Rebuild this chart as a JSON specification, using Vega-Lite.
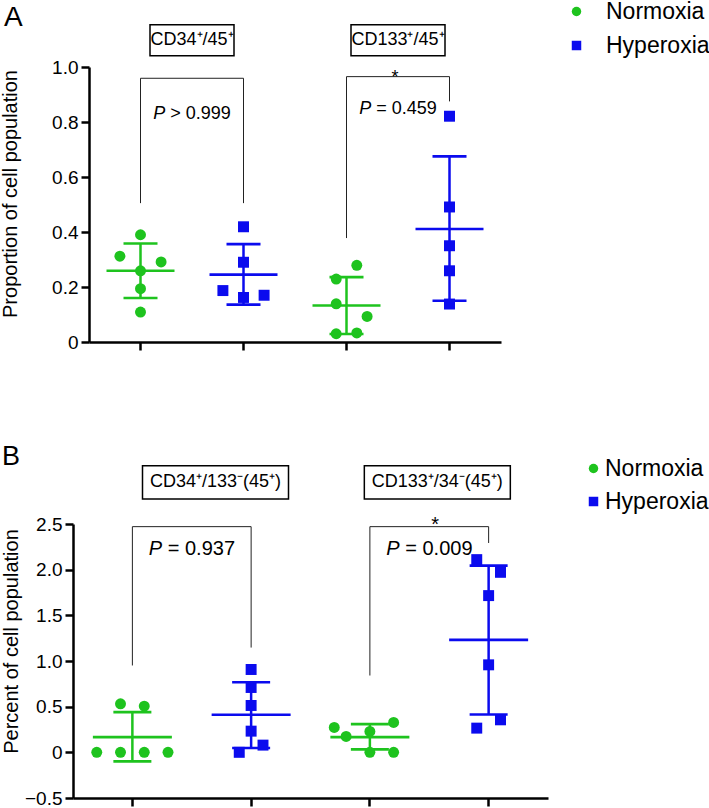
{
  "$schema": "https://vega.github.io/schema/vega-lite/v6.json",
  "padding": 0,
  "background": "white",
  "config": {"font": "Liberation Sans", "view": {"stroke": null}},
  "spacing": 182,
  "bounds": "flush",
  "resolve": {
    "scale": {"x": "independent", "y": "independent", "color": "independent", "shape": "independent", "xOffset": "independent"},
    "legend": {"color": "independent", "shape": "independent"}
  },
  "datasets": {
    "a_pts": [
      {"g": "1", "c": "Normoxia", "v": 0.390, "s": 0},
      {"g": "1", "c": "Normoxia", "v": 0.312, "s": -2},
      {"g": "1", "c": "Normoxia", "v": 0.291, "s": 2},
      {"g": "1", "c": "Normoxia", "v": 0.259, "s": 0},
      {"g": "1", "c": "Normoxia", "v": 0.194, "s": 0},
      {"g": "1", "c": "Normoxia", "v": 0.109, "s": 0},
      {"g": "2", "c": "Hyperoxia", "v": 0.419, "s": 0},
      {"g": "2", "c": "Hyperoxia", "v": 0.290, "s": 0},
      {"g": "2", "c": "Hyperoxia", "v": 0.187, "s": -2},
      {"g": "2", "c": "Hyperoxia", "v": 0.162, "s": 0},
      {"g": "2", "c": "Hyperoxia", "v": 0.170, "s": 2},
      {"g": "3", "c": "Normoxia", "v": 0.279, "s": 1},
      {"g": "3", "c": "Normoxia", "v": 0.229, "s": -1},
      {"g": "3", "c": "Normoxia", "v": 0.139, "s": -1},
      {"g": "3", "c": "Normoxia", "v": 0.093, "s": 2},
      {"g": "3", "c": "Normoxia", "v": 0.030, "s": -1},
      {"g": "3", "c": "Normoxia", "v": 0.033, "s": 1},
      {"g": "4", "c": "Hyperoxia", "v": 0.821, "s": 0},
      {"g": "4", "c": "Hyperoxia", "v": 0.491, "s": 0},
      {"g": "4", "c": "Hyperoxia", "v": 0.350, "s": 0},
      {"g": "4", "c": "Hyperoxia", "v": 0.259, "s": 0},
      {"g": "4", "c": "Hyperoxia", "v": 0.138, "s": 0}
    ],
    "a_st": [
      {"g": "1", "c": "Normoxia", "mean": 0.259, "lo": 0.160, "hi": 0.358},
      {"g": "2", "c": "Hyperoxia", "mean": 0.245, "lo": 0.136, "hi": 0.356},
      {"g": "3", "c": "Normoxia", "mean": 0.133, "lo": 0.029, "hi": 0.236},
      {"g": "4", "c": "Hyperoxia", "mean": 0.411, "lo": 0.150, "hi": 0.675}
    ],
    "a_br": [
      {"g1": "1", "g2": "2", "top": 0.959, "l1": 0.505, "l2": 0.505, "pv": "P", "pt": "> 0.999", "py": 0.829, "star": "", "sy": 0.942},
      {"g1": "3", "g2": "4", "top": 0.965, "l1": 0.378, "l2": 0.875, "pv": "P", "pt": "= 0.459", "py": 0.846, "star": "*", "sy": 0.942}
    ],
    "a_lab": [
      {"k": 1, "g": "2", "lab": "CD34⁺/45⁺", "y": 1.097},
      {"k": 2, "g": "4", "lab": "CD133⁺/45⁺", "y": 1.097}
    ],
    "a_let": [{"g": "1", "t": "A", "y": 1.149}],
    "b_pts": [
      {"g": "1", "c": "Normoxia", "v": 0.531, "s": -1},
      {"g": "1", "c": "Normoxia", "v": 0.506, "s": 1},
      {"g": "1", "c": "Normoxia", "v": 0.0, "s": -3},
      {"g": "1", "c": "Normoxia", "v": 0.0, "s": -1},
      {"g": "1", "c": "Normoxia", "v": 0.0, "s": 1},
      {"g": "1", "c": "Normoxia", "v": 0.0, "s": 3},
      {"g": "2", "c": "Hyperoxia", "v": 0.907, "s": 0},
      {"g": "2", "c": "Hyperoxia", "v": 0.710, "s": 0},
      {"g": "2", "c": "Hyperoxia", "v": 0.513, "s": 0},
      {"g": "2", "c": "Hyperoxia", "v": 0.232, "s": 0},
      {"g": "2", "c": "Hyperoxia", "v": 0.079, "s": 1},
      {"g": "2", "c": "Hyperoxia", "v": 0.0, "s": -1},
      {"g": "3", "c": "Normoxia", "v": 0.327, "s": 2},
      {"g": "3", "c": "Normoxia", "v": 0.272, "s": -3},
      {"g": "3", "c": "Normoxia", "v": 0.229, "s": 0},
      {"g": "3", "c": "Normoxia", "v": 0.174, "s": -2},
      {"g": "3", "c": "Normoxia", "v": 0.0, "s": 0},
      {"g": "3", "c": "Normoxia", "v": 0.0, "s": 2},
      {"g": "4", "c": "Hyperoxia", "v": 2.110, "s": -1},
      {"g": "4", "c": "Hyperoxia", "v": 1.971, "s": 1},
      {"g": "4", "c": "Hyperoxia", "v": 1.716, "s": 0},
      {"g": "4", "c": "Hyperoxia", "v": 0.958, "s": 0},
      {"g": "4", "c": "Hyperoxia", "v": 0.356, "s": 1},
      {"g": "4", "c": "Hyperoxia", "v": 0.265, "s": -1}
    ],
    "b_st": [
      {"g": "1", "c": "Normoxia", "mean": 0.167, "lo": -0.099, "hi": 0.440},
      {"g": "2", "c": "Hyperoxia", "mean": 0.411, "lo": 0.047, "hi": 0.768},
      {"g": "3", "c": "Normoxia", "mean": 0.167, "lo": 0.032, "hi": 0.309},
      {"g": "4", "c": "Hyperoxia", "mean": 1.231, "lo": 0.415, "hi": 2.044}
    ],
    "b_br": [
      {"g1": "1", "g2": "2", "top": 2.471, "l1": 0.951, "l2": 1.147, "pv": "P", "pt": "= 0.937", "py": 2.227, "star": "", "sy": 2.427},
      {"g1": "3", "g2": "4", "top": 2.471, "l1": 0.841, "l2": 2.292, "pv": "P", "pt": "= 0.009", "py": 2.227, "star": "*", "sy": 2.427}
    ],
    "b_lab": [
      {"k": 1, "g": "2", "lab": "CD34⁺/133⁻(45⁺)", "y": 2.956},
      {"k": 2, "g": "4", "lab": "CD133⁺/34⁻(45⁺)", "y": 2.956}
    ],
    "b_let": [{"g": "1", "t": "B", "y": 3.145}]
  },
  "vconcat": [
    {
      "width": 412,
      "height": 275,
      "layer": [
        {
          "data": {"name": "a_st"},
          "mark": {"type": "rule", "strokeWidth": 2.5},
          "encoding": {
            "x": {"field": "g", "type": "nominal", "scale": {"type": "band", "domain": ["1", "2", "3", "4"], "paddingInner": 0, "paddingOuter": 0},
                  "axis": {"title": null, "labels": false, "ticks": true, "tickSize": 8, "tickWidth": 2.5, "tickColor": "black", "domainWidth": 2.5, "domainColor": "black", "grid": false}},
            "y": {"field": "lo", "type": "quantitative", "scale": {"domain": [0, 1], "nice": false, "zero": false},
                  "axis": {"title": "Proportion of cell population", "values": [0, 0.2, 0.4, 0.6, 0.8, 1],
                           "labelExpr": "datum.value == 0 ? '0' : format(datum.value, '.1f')",
                           "labelFontSize": 19, "labelColor": "black", "titleFontSize": 20, "titleFontWeight": "normal", "titleColor": "black",
                           "tickSize": 8, "tickWidth": 2.5, "tickColor": "black", "domainWidth": 2.5, "domainColor": "black",
                           "labelPadding": 3, "titlePadding": 31, "titleY": 126.5, "grid": false}},
            "y2": {"field": "hi"},
            "color": {"condition": {"test": "datum.c == 'Normoxia'", "value": "#1EC31E"}, "value": "#0B0BEE"}
          }
        },
        {
          "data": {"name": "a_st"},
          "mark": {"type": "tick", "size": 68, "thickness": 2.6, "opacity": 1},
          "encoding": {
            "x": {"field": "g", "type": "nominal"},
            "y": {"field": "mean", "type": "quantitative"},
            "color": {"condition": {"test": "datum.c == 'Normoxia'", "value": "#1EC31E"}, "value": "#0B0BEE"}
          }
        },
        {
          "data": {"name": "a_st"},
          "mark": {"type": "tick", "size": 34, "thickness": 2.6, "opacity": 1},
          "encoding": {
            "x": {"field": "g", "type": "nominal"},
            "y": {"field": "hi", "type": "quantitative"},
            "color": {"condition": {"test": "datum.c == 'Normoxia'", "value": "#1EC31E"}, "value": "#0B0BEE"}
          }
        },
        {
          "data": {"name": "a_st"},
          "mark": {"type": "tick", "size": 34, "thickness": 2.6, "opacity": 1},
          "encoding": {
            "x": {"field": "g", "type": "nominal"},
            "y": {"field": "lo", "type": "quantitative"},
            "color": {"condition": {"test": "datum.c == 'Normoxia'", "value": "#1EC31E"}, "value": "#0B0BEE"}
          }
        },
        {
          "data": {"name": "a_pts"},
          "mark": {"type": "point", "filled": true, "opacity": 1, "size": 120},
          "encoding": {
            "x": {"field": "g", "type": "nominal"},
            "xOffset": {"field": "s", "type": "ordinal", "scale": {"type": "point", "domain": [-4, -3, -2, -1, 0, 1, 2, 3, 4], "padding": 2}},
            "y": {"field": "v", "type": "quantitative"},
            "color": {"field": "c", "type": "nominal", "scale": {"domain": ["Normoxia", "Hyperoxia"], "range": ["#1EC31E", "#0B0BEE"]},
                      "legend": {"title": null, "orient": "none", "legendX": 476, "legendY": -67, "labelFontSize": 23, "labelColor": "black", "symbolSize": 90, "labelOffset": 18, "rowPadding": 10}},
            "shape": {"field": "c", "type": "nominal", "scale": {"domain": ["Normoxia", "Hyperoxia"], "range": ["circle", "square"]},
                      "legend": {"title": null, "orient": "none", "legendX": 476, "legendY": -67, "labelFontSize": 23, "labelColor": "black", "symbolSize": 90, "labelOffset": 18, "rowPadding": 10}}
          }
        },
        {
          "data": {"name": "a_br"},
          "mark": {"type": "rule", "color": "#222222", "strokeWidth": 1},
          "encoding": {
            "x": {"field": "g1", "type": "nominal"},
            "x2": {"field": "g2"},
            "y": {"field": "top", "type": "quantitative"}
          }
        },
        {
          "data": {"name": "a_br"},
          "mark": {"type": "rule", "color": "#222222", "strokeWidth": 1},
          "encoding": {
            "x": {"field": "g1", "type": "nominal"},
            "y": {"field": "l1", "type": "quantitative"},
            "y2": {"field": "top"}
          }
        },
        {
          "data": {"name": "a_br"},
          "mark": {"type": "rule", "color": "#222222", "strokeWidth": 1},
          "encoding": {
            "x": {"field": "g2", "type": "nominal"},
            "y": {"field": "l2", "type": "quantitative"},
            "y2": {"field": "top"}
          }
        },
        {
          "data": {"name": "a_br"},
          "mark": {"type": "text", "fontStyle": "italic", "fontSize": 18, "align": "left", "baseline": "middle", "dx": -38.75, "color": "black"},
          "encoding": {
            "x": {"field": "g2", "type": "nominal", "bandPosition": 0},
            "y": {"field": "py", "type": "quantitative"},
            "text": {"field": "pv"}
          }
        },
        {
          "data": {"name": "a_br"},
          "mark": {"type": "text", "fontSize": 18, "align": "left", "baseline": "middle", "dx": -21.75, "color": "black"},
          "encoding": {
            "x": {"field": "g2", "type": "nominal", "bandPosition": 0},
            "y": {"field": "py", "type": "quantitative"},
            "text": {"field": "pt"}
          }
        },
        {
          "data": {"name": "a_br"},
          "mark": {"type": "text", "fontSize": 18, "align": "center", "baseline": "alphabetic", "dx": -3, "color": "black"},
          "encoding": {
            "x": {"field": "g2", "type": "nominal", "bandPosition": 0},
            "y": {"field": "sy", "type": "quantitative"},
            "text": {"field": "star"}
          }
        },
        {
          "data": {"name": "a_lab"},
          "transform": [{"filter": "datum.k == 1"}],
          "mark": {"type": "point", "shape": "M-1,-0.369H1V0.369H-1Z", "size": 7056, "filled": false, "stroke": "black", "strokeWidth": 1.5, "opacity": 1},
          "encoding": {
            "x": {"field": "g", "type": "nominal", "bandPosition": 0},
            "y": {"field": "y", "type": "quantitative"}
          }
        },
        {
          "data": {"name": "a_lab"},
          "transform": [{"filter": "datum.k == 2"}],
          "mark": {"type": "point", "shape": "M-1,-0.33H1V0.33H-1Z", "size": 8836, "filled": false, "stroke": "black", "strokeWidth": 1.5, "opacity": 1},
          "encoding": {
            "x": {"field": "g", "type": "nominal", "bandPosition": 0},
            "y": {"field": "y", "type": "quantitative"}
          }
        },
        {
          "data": {"name": "a_lab"},
          "mark": {"type": "text", "fontSize": 18, "align": "center", "baseline": "middle", "color": "black"},
          "encoding": {
            "x": {"field": "g", "type": "nominal", "bandPosition": 0},
            "y": {"field": "y", "type": "quantitative"},
            "text": {"field": "lab"}
          }
        },
        {
          "data": {"name": "a_let"},
          "mark": {"type": "text", "fontSize": 28, "align": "left", "baseline": "alphabetic", "dx": -85, "color": "black"},
          "encoding": {
            "x": {"field": "g", "type": "nominal", "bandPosition": 0},
            "y": {"field": "y", "type": "quantitative"},
            "text": {"field": "t"}
          }
        }
      ]
    },
    {
      "width": 459,
      "height": 274,
      "layer": [
        {
          "data": {"name": "b_st"},
          "mark": {"type": "rule", "strokeWidth": 2.5},
          "encoding": {
            "x": {"field": "g", "type": "nominal", "scale": {"type": "band", "domain": ["1", "2", "3", "4"], "paddingInner": 0, "paddingOuter": 0, "range": [-16, 459]},
                  "axis": {"title": null, "labels": false, "ticks": true, "tickSize": 8, "tickWidth": 2.5, "tickColor": "black", "domainWidth": 2.5, "domainColor": "black", "grid": false}},
            "y": {"field": "lo", "type": "quantitative", "scale": {"domain": [-0.5, 2.5], "nice": false, "zero": false},
                  "axis": {"title": "Percent of cell population", "values": [-0.5, 0, 0.5, 1, 1.5, 2, 2.5],
                           "labelExpr": "datum.value == 0 ? '0' : (datum.value < 0 ? '−' + format(-datum.value, '.1f') : format(datum.value, '.1f'))",
                           "labelFontSize": 19, "labelColor": "black", "titleFontSize": 20, "titleFontWeight": "normal", "titleColor": "black",
                           "tickSize": 8, "tickWidth": 2.5, "tickColor": "black", "domainWidth": 2.5, "domainColor": "black",
                           "labelPadding": 3, "titlePadding": 3, "titleY": 117, "offset": 16, "grid": false}},
            "y2": {"field": "hi"},
            "color": {"condition": {"test": "datum.c == 'Normoxia'", "value": "#1EC31E"}, "value": "#0B0BEE"}
          }
        },
        {
          "data": {"name": "b_st"},
          "mark": {"type": "tick", "size": 79, "thickness": 2.6, "opacity": 1},
          "encoding": {
            "x": {"field": "g", "type": "nominal"},
            "y": {"field": "mean", "type": "quantitative"},
            "color": {"condition": {"test": "datum.c == 'Normoxia'", "value": "#1EC31E"}, "value": "#0B0BEE"}
          }
        },
        {
          "data": {"name": "b_st"},
          "mark": {"type": "tick", "size": 38, "thickness": 2.6, "opacity": 1},
          "encoding": {
            "x": {"field": "g", "type": "nominal"},
            "y": {"field": "hi", "type": "quantitative"},
            "color": {"condition": {"test": "datum.c == 'Normoxia'", "value": "#1EC31E"}, "value": "#0B0BEE"}
          }
        },
        {
          "data": {"name": "b_st"},
          "mark": {"type": "tick", "size": 38, "thickness": 2.6, "opacity": 1},
          "encoding": {
            "x": {"field": "g", "type": "nominal"},
            "y": {"field": "lo", "type": "quantitative"},
            "color": {"condition": {"test": "datum.c == 'Normoxia'", "value": "#1EC31E"}, "value": "#0B0BEE"}
          }
        },
        {
          "data": {"name": "b_pts"},
          "mark": {"type": "point", "filled": true, "opacity": 1, "size": 120},
          "encoding": {
            "x": {"field": "g", "type": "nominal"},
            "xOffset": {"field": "s", "type": "ordinal", "scale": {"type": "point", "domain": [-4, -3, -2, -1, 0, 1, 2, 3, 4], "padding": 4.48}},
            "y": {"field": "v", "type": "quantitative"},
            "color": {"field": "c", "type": "nominal", "scale": {"domain": ["Normoxia", "Hyperoxia"], "range": ["#1EC31E", "#0B0BEE"]},
                      "legend": {"title": null, "orient": "none", "legendX": 493, "legendY": -67, "labelFontSize": 23, "labelColor": "black", "symbolSize": 90, "labelOffset": 0, "rowPadding": 9}},
            "shape": {"field": "c", "type": "nominal", "scale": {"domain": ["Normoxia", "Hyperoxia"], "range": ["circle", "square"]},
                      "legend": {"title": null, "orient": "none", "legendX": 493, "legendY": -67, "labelFontSize": 23, "labelColor": "black", "symbolSize": 90, "labelOffset": 0, "rowPadding": 9}}
          }
        },
        {
          "data": {"name": "b_br"},
          "mark": {"type": "rule", "color": "#222222", "strokeWidth": 1},
          "encoding": {
            "x": {"field": "g1", "type": "nominal"},
            "x2": {"field": "g2"},
            "y": {"field": "top", "type": "quantitative"}
          }
        },
        {
          "data": {"name": "b_br"},
          "mark": {"type": "rule", "color": "#222222", "strokeWidth": 1},
          "encoding": {
            "x": {"field": "g1", "type": "nominal"},
            "y": {"field": "l1", "type": "quantitative"},
            "y2": {"field": "top"}
          }
        },
        {
          "data": {"name": "b_br"},
          "mark": {"type": "rule", "color": "#222222", "strokeWidth": 1},
          "encoding": {
            "x": {"field": "g2", "type": "nominal"},
            "y": {"field": "l2", "type": "quantitative"},
            "y2": {"field": "top"}
          }
        },
        {
          "data": {"name": "b_br"},
          "mark": {"type": "text", "fontStyle": "italic", "fontSize": 20, "align": "left", "baseline": "middle", "dx": -43, "color": "black"},
          "encoding": {
            "x": {"field": "g2", "type": "nominal", "bandPosition": 0},
            "y": {"field": "py", "type": "quantitative"},
            "text": {"field": "pv"}
          }
        },
        {
          "data": {"name": "b_br"},
          "mark": {"type": "text", "fontSize": 20, "align": "left", "baseline": "middle", "dx": -24, "color": "black"},
          "encoding": {
            "x": {"field": "g2", "type": "nominal", "bandPosition": 0},
            "y": {"field": "py", "type": "quantitative"},
            "text": {"field": "pt"}
          }
        },
        {
          "data": {"name": "b_br"},
          "mark": {"type": "text", "fontSize": 20, "align": "center", "baseline": "alphabetic", "dx": 6, "color": "black"},
          "encoding": {
            "x": {"field": "g2", "type": "nominal", "bandPosition": 0},
            "y": {"field": "sy", "type": "quantitative"},
            "text": {"field": "star"}
          }
        },
        {
          "data": {"name": "b_lab"},
          "transform": [{"filter": "datum.k == 1"}],
          "mark": {"type": "point", "shape": "M-1,-0.228H1V0.228H-1Z", "size": 21316, "filled": false, "stroke": "black", "strokeWidth": 1.5, "opacity": 1},
          "encoding": {
            "x": {"field": "g", "type": "nominal", "bandPosition": 0.2},
            "y": {"field": "y", "type": "quantitative"}
          }
        },
        {
          "data": {"name": "b_lab"},
          "transform": [{"filter": "datum.k == 1"}],
          "mark": {"type": "text", "fontSize": 18, "align": "center", "baseline": "middle", "color": "black"},
          "encoding": {
            "x": {"field": "g", "type": "nominal", "bandPosition": 0.2},
            "y": {"field": "y", "type": "quantitative"},
            "text": {"field": "lab"}
          }
        },
        {
          "data": {"name": "b_lab"},
          "transform": [{"filter": "datum.k == 2"}],
          "mark": {"type": "point", "shape": "M-1,-0.228H1V0.228H-1Z", "size": 21316, "filled": false, "stroke": "black", "strokeWidth": 1.5, "opacity": 1},
          "encoding": {
            "x": {"field": "g", "type": "nominal", "bandPosition": 0.068},
            "y": {"field": "y", "type": "quantitative"}
          }
        },
        {
          "data": {"name": "b_lab"},
          "transform": [{"filter": "datum.k == 2"}],
          "mark": {"type": "text", "fontSize": 18, "align": "center", "baseline": "middle", "color": "black"},
          "encoding": {
            "x": {"field": "g", "type": "nominal", "bandPosition": 0.068},
            "y": {"field": "y", "type": "quantitative"},
            "text": {"field": "lab"}
          }
        },
        {
          "data": {"name": "b_let"},
          "mark": {"type": "text", "fontSize": 27, "align": "left", "baseline": "alphabetic", "dx": -71, "color": "black"},
          "encoding": {
            "x": {"field": "g", "type": "nominal", "bandPosition": 0},
            "y": {"field": "y", "type": "quantitative"},
            "text": {"field": "t"}
          }
        }
      ]
    }
  ]
}
